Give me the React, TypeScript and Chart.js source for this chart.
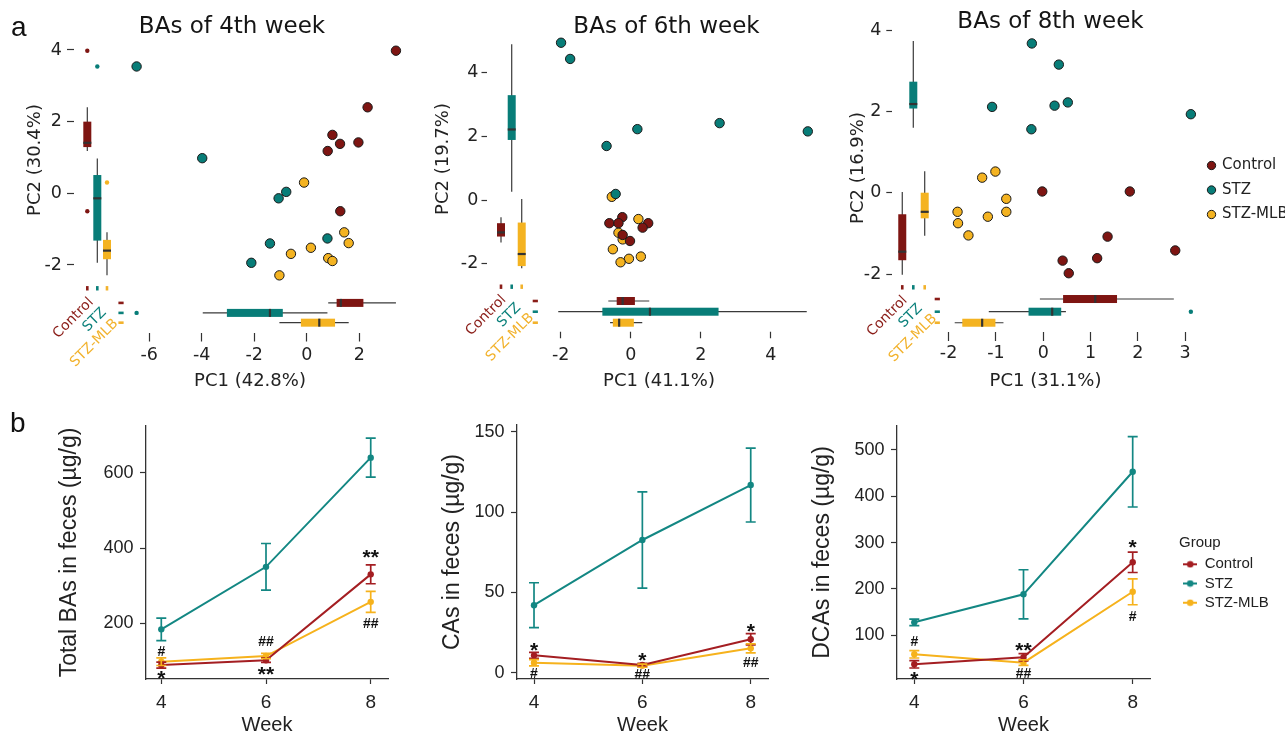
import React, { useEffect, useRef } from 'react';
import { Chart, registerables } from 'chart.js';

Chart.register(...registerables);

// ---------------- data ----------------
const GROUPS = ['Control', 'STZ', 'STZ-MLB'];

// (a) PCA scores – week 4
const w4ControlPC1 = [3.40, 2.32, 0.98, 1.27, 1.97, 0.80, 1.28];
const w4ControlPC2 = [3.98, 2.40, 1.63, 1.38, 1.42, 1.18, -0.50];
const w4StzPC1 = [-6.48, -3.98, -0.78, -1.07, -1.40, 0.79, -2.11];
const w4StzPC2 = [3.54, 0.98, 0.04, -0.14, -1.40, -1.26, -1.94];
const w4MlbPC1 = [-0.10, 1.43, 1.60, 0.16, -0.60, 0.82, 0.98, -1.04];
const w4MlbPC2 = [0.30, -1.09, -1.39, -1.52, -1.69, -1.81, -1.89, -2.29];

// (a) PCA scores – week 6
const w6ControlPC1 = [-0.24, -0.61, -0.35, 0.50, 0.34, -0.23, -0.02];
const w6ControlPC2 = [-0.54, -0.73, -0.73, -0.73, -0.87, -1.10, -1.29];
const w6StzPC1 = [-1.99, -1.73, 0.19, 2.54, 5.06, -0.69, -0.43];
const w6StzPC2 = [4.95, 4.44, 2.23, 2.42, 2.16, 1.70, 0.19];
const w6MlbPC1 = [-0.54, 0.22, -0.35, -0.23, -0.51, 0.29, -0.05, -0.29];
const w6MlbPC2 = [0.10, -0.60, -1.03, -1.24, -1.55, -1.78, -1.85, -1.96];

// (a) PCA scores – week 8
const w8ControlPC1 = [-0.02, 1.83, 1.36, 2.79, 0.41, 1.14, 0.54];
const w8ControlPC2 = [0.03, 0.03, -1.08, -1.42, -1.67, -1.61, -1.98];
const w8StzPC1 = [-0.24, 0.33, -1.08, 0.24, 0.52, 3.12, -0.25];
const w8StzPC2 = [3.67, 3.15, 2.11, 2.14, 2.22, 1.93, 1.56];
const w8MlbPC1 = [-1.01, -1.29, -0.78, -1.81, -0.78, -1.17, -1.80, -1.58];
const w8MlbPC2 = [0.52, 0.37, -0.15, -0.47, -0.47, -0.59, -0.75, -1.05];

// marginal boxplots: [lower whisker, Q1, median, Q3, upper whisker]
const w4ControlPC1Box = [0.82, 1.14, 1.30, 2.16, 3.40];
const w4StzPC1Box = [-3.96, -3.04, -1.40, -0.91, 0.79];
const w4MlbPC1Box = [-1.04, -0.22, 0.48, 1.08, 1.60];
const w4ControlPC2Box = [1.18, 1.29, 1.41, 2.00, 2.40];
const w4StzPC2Box = [-1.94, -1.32, -0.14, 0.51, 0.97];
const w4MlbPC2Box = [-2.29, -1.84, -1.60, -1.30, -1.09];
const w4StzPC1Out = [-6.48];
const w4ControlPC2Out = [3.98, -0.50];
const w4StzPC2Out = [3.54];
const w4MlbPC2Out = [0.30];

const w6ControlPC1Box = [-0.64, -0.40, -0.23, 0.12, 0.53];
const w6StzPC1Box = [-2.07, -0.81, 0.55, 2.51, 5.03];
const w6MlbPC1Box = [-0.59, -0.51, -0.33, 0.09, 0.33];
const w6ControlPC2Box = [-1.34, -1.15, -1.02, -0.73, -0.54];
const w6StzPC2Box = [0.26, 1.89, 2.22, 3.30, 4.90];
const w6MlbPC2Box = [-2.15, -2.08, -1.70, -0.71, 0.03];

const w8ControlPC1Box = [-0.07, 0.42, 1.10, 1.56, 2.76];
const w8StzPC1Box = [-1.15, -0.31, 0.19, 0.38, 0.48];
const w8MlbPC1Box = [-1.87, -1.71, -1.29, -1.01, -0.84];
const w8ControlPC2Box = [-2.02, -1.66, -1.45, -0.53, 0.02];
const w8StzPC2Box = [1.60, 2.07, 2.18, 2.73, 3.73];
const w8MlbPC2Box = [-1.06, -0.63, -0.47, 0.00, 0.53];
const w8StzPC1Out = [3.12];

const PC_X_TICKS_4 = [-6, -4, -2, 0, 2];
const PC_X_TICKS_6 = [-2, 0, 2, 4];
const PC_X_TICKS_8 = [-2, -1, 0, 1, 2, 3];
const PC_Y_TICKS = [-2, 0, 2, 4];

// (b) concentrations (mean, error)
const WEEKS = [4, 6, 8];
const totalControl = [89, 102, 330];
const totalControlErr = [8, 6, 25];
const totalStz = [184, 350, 640];
const totalStzErr = [30, 62, 52];
const totalMlb = [98, 113, 257];
const totalMlbErr = [10, 7, 28];

const casControl = [10.8, 4.8, 20.8];
const casControlErr = [1.8, 1.0, 3.5];
const casStz = [42, 82.6, 116.8];
const casStzErr = [14, 30, 23];
const casMlb = [6.2, 4.4, 15.2];
const casMlbErr = [2.0, 1.0, 2.8];

const dcaControl = [37.4, 52.5, 257.6];
const dcaControlErr = [8, 8, 22];
const dcaStz = [128, 188.5, 453];
const dcaStzErr = [7, 53, 76];
const dcaMlb = [59, 41, 194];
const dcaMlbErr = [8, 6, 28];

// significance marks
const totalMarkWeek = [4, 4, 6, 6, 8, 8];
const totalMarkText = ['#', '*', '##', '**', '**', '##'];
const totalMarkAt = [127, 62, 154, 74, 384, 200];
const casMarkWeek = [4, 4, 6, 6, 8, 8];
const casMarkText = ['*', '#', '*', '##', '*', '##'];
const casMarkAt = [16.2, 0, 9.6, -0.8, 27.8, 6.7];
const dcaMarkWeek = [4, 4, 6, 6, 8, 8];
const dcaMarkText = ['#', '*', '**', '##', '*', '#'];
const dcaMarkAt = [88.3, 12.1, 75.4, 19.3, 297, 141.7];

const TOTAL_TICKS = [200, 400, 600];
const CAS_TICKS = [0, 50, 100, 150];
const DCA_TICKS = [100, 200, 300, 400, 500];

// ---------------- styles ----------------
const FV = '"DejaVu Sans", Verdana, sans-serif';
const FA = '"Liberation Sans", Arial, sans-serif';
const INK = '#222222';
const TICK = '#333333';
const PT_COL = ['#7e1512', '#087d78', '#f4b321'];
const LABEL_COL = ['#8a1c17', '#0b807b', '#f2b22c'];
const LINE_COL = ['#a41e22', '#138783', '#f6b21c'];
const WHISK = '#3a3a3a';
const MED = '#333333';

// ---------------- layouts ----------------
const TOP_SPECS: any[] = [
  {
    left: 0, top: 0, w: 464, h: 400, title: 'BAs of 4th week', titlePad: [13.2, 1.2],
    yW: 74, yrW: 38, xAxisH: 122, xMin: -8.865, xMax: 4.545, yMin: -2.364, yMax: 4.223,
    xTicks: PC_X_TICKS_4, yTicks: PC_Y_TICKS, xTL: 63.5, xDash: [0, 55, 8.5, 300], xPad: 3.3,
    yTL: 7, yPad: 5, xTitle: 'PC1 (42.8%)', yTitle: 'PC2 (30.4%)', xTitlePb: 8.2, yTitlePt: 24.2,
    pc1: [w4ControlPC1, w4StzPC1, w4MlbPC1], pc2: [w4ControlPC2, w4StzPC2, w4MlbPC2],
    box1: [w4ControlPC1Box, w4StzPC1Box, w4MlbPC1Box], box2: [w4ControlPC2Box, w4StzPC2Box, w4MlbPC2Box],
    out1: [[], w4StzPC1Out, []], out2: [w4ControlPC2Out, w4StzPC2Out, w4MlbPC2Out],
    vPos: [-8.358, -7.977, -7.608], hPos: [-3.059, -3.338, -3.611], vDashY: -2.651, hDashX: -7.074,
    lblOff: [[4, 12], [7, 22], [9, 33]], legend: false,
  },
  {
    left: 430, top: 0, w: 473, h: 400, title: 'BAs of 6th week', titlePad: [13.2, -0.8],
    yW: 57, yrW: 72, xAxisH: 122, xMin: -4.106, xMax: 5.723, yMin: -2.455, yMax: 5.036,
    xTicks: PC_X_TICKS_6, yTicks: PC_Y_TICKS, xTL: 60.3, xDash: [0, 53.7, 6.6, 300], xPad: 6.5,
    yTL: 5.5, yPad: 3.2, xTitle: 'PC1 (41.1%)', yTitle: 'PC2 (19.7%)', xTitlePb: 8.2, yTitlePt: 2.2,
    pc1: [w6ControlPC1, w6StzPC1, w6MlbPC1], pc2: [w6ControlPC2, w6StzPC2, w6MlbPC2],
    box1: [w6ControlPC1Box, w6StzPC1Box, w6MlbPC1Box], box2: [w6ControlPC2Box, w6StzPC2Box, w6MlbPC2Box],
    out1: [[], [], []], out2: [[], [], []],
    vPos: [-3.706, -3.40, -3.114], hPos: [-3.179, -3.516, -3.862], vDashY: -2.729, hDashX: -2.726,
    lblOff: [[3, 11], [7, 19], [10, 29]], legend: false,
  },
  {
    left: 816, top: -15, w: 469, h: 410, title: 'BAs of 8th week', titlePad: [22.9, -9.5],
    yW: 76, yrW: 0, xAxisH: 85, xMin: -3.195, xMax: 3.292, yMin: -2.884, yMax: 4.099,
    xTicks: PC_X_TICKS_8, yTicks: PC_Y_TICKS, xTL: 31, xDash: [0, 22, 9, 300], xPad: 2.1,
    yTL: 5.7, yPad: 5, xTitle: 'PC1 (31.1%)', yTitle: 'PC2 (16.9%)', xTitlePb: 3.2, yTitlePt: 31.2,
    pc1: [w8ControlPC1, w8StzPC1, w8MlbPC1], pc2: [w8ControlPC2, w8StzPC2, w8MlbPC2],
    box1: [w8ControlPC1Box, w8StzPC1Box, w8MlbPC1Box], box2: [w8ControlPC2Box, w8StzPC2Box, w8MlbPC2Box],
    out1: [[], w8StzPC1Out, []], out2: [[], [], []],
    vPos: [-2.978, -2.745, -2.504], hPos: [-2.614, -2.926, -3.197], vDashY: -2.326, hDashX: -2.238,
    lblOff: [[3, 11], [7, 19], [10, 29]], legend: true,
  },
];

const BOTTOM_SPECS: any[] = [
  {
    left: 0, top: 400, w: 400, h: 337, padTop: 26, padRight: 12, yW: 146, yrW: 0, legend: false,
    xMin: 3.708, xMax: 8.330, yMin: 52.1, yMax: 724, yTicks: TOTAL_TICKS,
    yTitle: 'Total BAs in feces (µg/g)', yTitlePt: 56.2,
    vals: [totalControl, totalStz, totalMlb], errs: [totalControlErr, totalStzErr, totalMlbErr],
    markWeek: totalMarkWeek, markText: totalMarkText, markAt: totalMarkAt,
  },
  {
    left: 430, top: 400, w: 350, h: 337, padTop: 25, padRight: 12, yW: 87, yrW: 0, legend: false,
    xMin: 3.686, xMax: 8.319, yMin: -3.92, yMax: 154.17, yTicks: CAS_TICKS,
    yTitle: 'CAs in feces (µg/g)', yTitlePt: 9.2,
    vals: [casControl, casStz, casMlb], errs: [casControlErr, casStzErr, casMlbErr],
    markWeek: casMarkWeek, markText: casMarkText, markAt: casMarkAt,
  },
  {
    left: 800, top: 400, w: 469, h: 337, padTop: 26, padRight: 0, yW: 97, yrW: 29, legend: true,
    xMin: 3.683, xMax: 8.317, yMin: 5.67, yMax: 551.8, yTicks: DCA_TICKS,
    yTitle: 'DCAs in feces (µg/g)', yTitlePt: 9.2,
    vals: [dcaControl, dcaStz, dcaMlb], errs: [dcaControlErr, dcaStzErr, dcaMlbErr],
    markWeek: dcaMarkWeek, markText: dcaMarkText, markAt: dcaMarkAt,
  },
];

// ---------------- helpers ----------------
function seg(ctx: CanvasRenderingContext2D, x1: number, y1: number, x2: number, y2: number) {
  ctx.beginPath();
  ctx.moveTo(x1, y1);
  ctx.lineTo(x2, y2);
  ctx.stroke();
}

function spacerAxis(width: number) {
  return {
    type: 'linear', position: 'right', display: true,
    grid: { display: false }, border: { display: false }, ticks: { display: false },
    afterFit: (a: any) => { a.width = width; },
  };
}

function legendIcon(color: string) {
  const c = document.createElement('canvas');
  c.width = 14;
  c.height = 8;
  const g = c.getContext('2d')!;
  g.strokeStyle = color;
  g.lineWidth = 2;
  g.beginPath();
  g.moveTo(0, 4);
  g.lineTo(14, 4);
  g.stroke();
  g.fillStyle = color;
  g.beginPath();
  g.arc(7, 4, 3.3, 0, Math.PI * 2);
  g.fill();
  return c;
}

function topPlugin(s: any) {
  return {
    id: 'pcaMargins',
    beforeDatasetsDraw(chart: any) {
      const ctx: CanvasRenderingContext2D = chart.ctx;
      const xs = chart.scales.x;
      const ys = chart.scales.y;
      const X = (v: number) => xs.getPixelForValue(v);
      const Y = (v: number) => ys.getPixelForValue(v);
      const BW = 8;
      ctx.save();
      GROUPS.forEach((g, i) => {
        // vertical boxplot of PC2
        const cx = X(s.vPos[i]);
        const b = s.box2[i].map(Y);
        ctx.strokeStyle = WHISK;
        ctx.lineWidth = 1.2;
        seg(ctx, cx, b[0], cx, b[4]);
        ctx.fillStyle = PT_COL[i];
        ctx.fillRect(cx - BW / 2, b[3], BW, b[1] - b[3]);
        ctx.strokeStyle = MED;
        ctx.lineWidth = 2.2;
        seg(ctx, cx - BW / 2, b[2], cx + BW / 2, b[2]);
        s.out2[i].forEach((v: number) => {
          ctx.fillStyle = PT_COL[i];
          ctx.beginPath();
          ctx.arc(cx, Y(v), 2.2, 0, Math.PI * 2);
          ctx.fill();
        });
        // horizontal boxplot of PC1
        const cy = Y(s.hPos[i]);
        const h = s.box1[i].map(X);
        ctx.strokeStyle = WHISK;
        ctx.lineWidth = 1.2;
        seg(ctx, h[0], cy, h[4], cy);
        ctx.fillStyle = PT_COL[i];
        ctx.fillRect(h[1], cy - BW / 2, h[3] - h[1], BW);
        ctx.strokeStyle = MED;
        ctx.lineWidth = 2.2;
        seg(ctx, h[2], cy - BW / 2, h[2], cy + BW / 2);
        s.out1[i].forEach((v: number) => {
          ctx.fillStyle = PT_COL[i];
          ctx.beginPath();
          ctx.arc(X(v), cy, 2.2, 0, Math.PI * 2);
          ctx.fill();
        });
        // group ticks
        const dy = Y(s.vDashY);
        const dx = X(s.hDashX);
        ctx.fillStyle = LABEL_COL[i];
        ctx.fillRect(cx - 1.3, dy - 2.2, 2.6, 4.4);
        ctx.fillRect(dx - 2.6, cy - 1.3, 5.2, 2.6);
        // rotated group labels
        ctx.save();
        ctx.translate(cx + s.lblOff[i][0], dy + s.lblOff[i][1]);
        ctx.rotate(-Math.PI / 4);
        ctx.font = `14px ${FV}`;
        ctx.textAlign = 'right';
        ctx.textBaseline = 'middle';
        ctx.fillText(g, 0, 0);
        ctx.restore();
      });
      ctx.restore();
    },
  };
}

function topConfig(s: any): any {
  const datasets = GROUPS.map((g, i) => ({
    label: g,
    data: s.pc1[i].map((x: number, j: number) => ({ x, y: s.pc2[i][j] })),
    backgroundColor: PT_COL[i],
    borderColor: '#1a1a1a',
    borderWidth: 1,
    pointRadius: 4.7,
    pointHoverRadius: 4.7,
    clip: false,
  }));
  const scales: any = {
    x: {
      type: 'linear', position: 'bottom', min: s.xMin, max: s.xMax,
      afterBuildTicks: (a: any) => { a.ticks = s.xTicks.map((v: number) => ({ value: v })); },
      afterFit: (a: any) => { a.height = s.xAxisH; },
      border: { display: false },
      grid: {
        display: true, drawOnChartArea: false, drawTicks: true, tickLength: s.xTL,
        tickBorderDash: s.xDash, tickColor: TICK, tickWidth: 1.2, color: TICK,
      },
      ticks: { autoSkip: false, maxRotation: 0, padding: s.xPad, color: INK, font: { family: FV, size: 17.5 } },
      title: { display: true, text: s.xTitle, color: INK, font: { family: FV, size: 18 }, padding: { top: 0, bottom: s.xTitlePb } },
    },
    y: {
      type: 'linear', position: 'left', min: s.yMin, max: s.yMax,
      afterBuildTicks: (a: any) => { a.ticks = s.yTicks.map((v: number) => ({ value: v })); },
      afterFit: (a: any) => { a.width = s.yW; },
      border: { display: false },
      grid: { display: true, drawOnChartArea: false, drawTicks: true, tickLength: s.yTL, tickColor: TICK, tickWidth: 1.2, color: TICK },
      ticks: { autoSkip: false, padding: s.yPad, color: INK, font: { family: FV, size: 17.5 } },
      title: { display: true, text: s.yTitle, color: INK, font: { family: FV, size: 18 }, padding: { top: s.yTitlePt, bottom: 0 } },
    },
  };
  if (s.yrW) scales.yr = spacerAxis(s.yrW);
  return {
    type: 'scatter',
    data: { datasets },
    options: {
      animation: false,
      responsive: false,
      maintainAspectRatio: false,
      devicePixelRatio: 1,
      events: [],
      layout: { padding: 0 },
      scales,
      plugins: {
        tooltip: { enabled: false },
        title: {
          display: true, text: s.title, color: '#151515',
          font: { family: FV, size: 23, weight: 'normal' },
          padding: { top: s.titlePad[0], bottom: s.titlePad[1] },
        },
        legend: s.legend
          ? {
            display: true, position: 'right', align: 'center', maxWidth: 86,
            labels: {
              usePointStyle: true, boxWidth: 6, boxHeight: 5.9, padding: 9.5,
              color: INK, font: { family: FV, size: 15 },
            },
          }
          : { display: false },
      },
    },
    plugins: [topPlugin(s)],
  };
}

function bottomPlugin(s: any) {
  return {
    id: 'errMarks',
    afterDatasetsDraw(chart: any) {
      const ctx: CanvasRenderingContext2D = chart.ctx;
      const xs = chart.scales.x;
      const ys = chart.scales.y;
      ctx.save();
      s.vals.forEach((vals: number[], i: number) => {
        ctx.strokeStyle = LINE_COL[i];
        ctx.lineWidth = 1.7;
        vals.forEach((v: number, j: number) => {
          const px = xs.getPixelForValue(WEEKS[j]);
          const y1 = ys.getPixelForValue(v - s.errs[i][j]);
          const y2 = ys.getPixelForValue(v + s.errs[i][j]);
          ctx.beginPath();
          ctx.moveTo(px, y1);
          ctx.lineTo(px, y2);
          ctx.moveTo(px - 5, y1);
          ctx.lineTo(px + 5, y1);
          ctx.moveTo(px - 5, y2);
          ctx.lineTo(px + 5, y2);
          ctx.stroke();
        });
      });
      ctx.fillStyle = '#111111';
      ctx.textAlign = 'center';
      ctx.textBaseline = 'alphabetic';
      s.markText.forEach((t: string, k: number) => {
        const star = t.indexOf('*') >= 0;
        ctx.font = star ? `bold 21px ${FA}` : `bold 14px ${FA}`;
        const m = ctx.measureText(t);
        const yc = ys.getPixelForValue(s.markAt[k]);
        const base = yc + (m.actualBoundingBoxAscent - m.actualBoundingBoxDescent) / 2;
        ctx.fillText(t, xs.getPixelForValue(s.markWeek[k]), base);
      });
      ctx.restore();
    },
  };
}

function bottomConfig(s: any): any {
  const datasets = GROUPS.map((g, i) => ({
    label: g,
    data: WEEKS.map((w, j) => ({ x: w, y: s.vals[i][j] })),
    borderColor: LINE_COL[i],
    backgroundColor: LINE_COL[i],
    pointBackgroundColor: LINE_COL[i],
    pointBorderWidth: 0,
    borderWidth: 2,
    pointRadius: 3.2,
    pointHoverRadius: 3.2,
    tension: 0,
    clip: false,
  }));
  const scales: any = {
    x: {
      type: 'linear', position: 'bottom', min: s.xMin, max: s.xMax,
      afterBuildTicks: (a: any) => { a.ticks = WEEKS.map((v) => ({ value: v })); },
      afterFit: (a: any) => { a.height = 58; },
      border: { display: true, color: TICK, width: 1.3 },
      grid: { display: true, drawOnChartArea: false, drawTicks: true, tickLength: 5, tickColor: TICK, tickWidth: 1.2, color: TICK },
      ticks: { autoSkip: false, maxRotation: 0, padding: 6.9, color: INK, font: { family: FA, size: 19 } },
      title: { display: true, text: 'Week', color: INK, font: { family: FA, size: 20 }, padding: { top: 0, bottom: 0 } },
    },
    y: {
      type: 'linear', position: 'left', min: s.yMin, max: s.yMax,
      afterBuildTicks: (a: any) => { a.ticks = s.yTicks.map((v: number) => ({ value: v })); },
      afterFit: (a: any) => { a.width = s.yW; },
      border: { display: true, color: TICK, width: 1.3 },
      grid: { display: true, drawOnChartArea: false, drawTicks: true, tickLength: 6, tickColor: TICK, tickWidth: 1.2, color: TICK },
      ticks: { autoSkip: false, padding: 6.5, color: INK, font: { family: FA, size: 18 } },
      title: { display: true, text: s.yTitle, color: INK, font: { family: FA, size: 23 }, padding: { top: s.yTitlePt, bottom: 0 } },
    },
  };
  if (s.yrW) scales.yr = spacerAxis(s.yrW);
  return {
    type: 'line',
    data: { datasets },
    options: {
      animation: false,
      responsive: false,
      maintainAspectRatio: false,
      devicePixelRatio: 1,
      events: [],
      layout: { padding: { top: s.padTop, right: s.padRight, left: 0, bottom: 0 } },
      scales,
      plugins: {
        tooltip: { enabled: false },
        title: { display: false },
        legend: s.legend
          ? {
            display: true, position: 'right', align: 'start', maxWidth: 90,
            title: {
              display: true, text: 'Group', position: 'start', color: INK,
              font: { family: FA, size: 15, lineHeight: 1 }, padding: { top: 109.8, bottom: 1.8 },
            },
            labels: {
              usePointStyle: true, pointStyleWidth: 14, padding: 4.2, color: INK,
              font: { family: FA, size: 15 },
              generateLabels: (chart: any) => chart.data.datasets.map((ds: any, i: number) => ({
                text: ds.label,
                pointStyle: legendIcon(LINE_COL[i]),
                fillStyle: LINE_COL[i],
                strokeStyle: LINE_COL[i],
                lineWidth: 0,
                hidden: false,
                datasetIndex: i,
                fontColor: INK,
              })),
            },
          }
          : { display: false },
      },
    },
    plugins: [bottomPlugin(s)],
  };
}

function ChartCanvas({ spec, build }: { spec: any; build: (s: any) => any }) {
  const ref = useRef<HTMLCanvasElement | null>(null);
  useEffect(() => {
    if (!ref.current) return;
    const chart = new Chart(ref.current, build(spec));
    return () => chart.destroy();
  }, [spec, build]);
  return (
    <canvas
      ref={ref}
      width={spec.w}
      height={spec.h}
      style={{ position: 'absolute', left: spec.left, top: spec.top, width: spec.w, height: spec.h }}
    />
  );
}

export default function App() {
  return (
    <div
      style={{
        position: 'absolute', left: 0, top: 0, width: 1285, height: 734,
        overflow: 'hidden', background: '#ffffff',
      }}
    >
      {TOP_SPECS.map((s, i) => <ChartCanvas key={'top' + i} spec={s} build={topConfig} />)}
      {BOTTOM_SPECS.map((s, i) => <ChartCanvas key={'bot' + i} spec={s} build={bottomConfig} />)}
      <div style={{ position: 'absolute', left: 11, top: 13, font: `28px ${FA}`, lineHeight: '28px', color: '#111' }}>a</div>
      <div style={{ position: 'absolute', left: 10, top: 409, font: `28px ${FA}`, lineHeight: '28px', color: '#111' }}>b</div>
    </div>
  );
}
